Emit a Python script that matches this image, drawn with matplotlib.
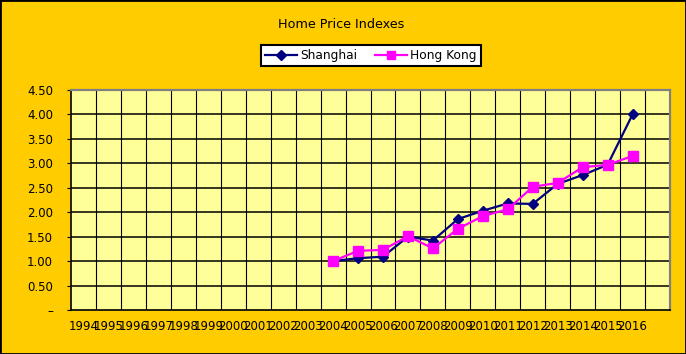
import numpy as np
import matplotlib
matplotlib.use("Agg")
import matplotlib.pyplot as plt
from matplotlib.lines import Line2D

# categories (last one is an empty slot, as in the source sheet)
years = [str(y) for y in range(1994, 2017)] + [""]
shanghai = [None] * 10 + [1.00, 1.06, 1.09, 1.50, 1.42, 1.86, 2.03, 2.18, 2.17, 2.58, 2.76, 2.97, 4.00, None]
hong_kong = [None] * 10 + [1.00, 1.21, 1.23, 1.51, 1.26, 1.66, 1.92, 2.06, 2.52, 2.60, 2.92, 2.97, 3.15, None]
y_ticks = [0, 0.5, 1.0, 1.5, 2.0, 2.5, 3.0, 3.5, 4.0, 4.5]
y_labels = ["–", "0.50", "1.00", "1.50", "2.00", "2.50", "3.00", "3.50", "4.00", "4.50"]

C_BG = "#FFCC00"
C_PLOT = "#FFFF99"
C_SH = "#000080"
C_HK = "#FF00FF"

W, H = 686, 354
fig = plt.figure(figsize=(W / 100, H / 100), dpi=100, facecolor=C_BG)
fig.patches.append(plt.Rectangle((0, 0), 1, 1, transform=fig.transFigure,
                                 fill=False, edgecolor="black", lw=2))

ax = fig.add_axes([71 / W, 1 - 310 / H, 599 / W, 220 / H], facecolor=C_PLOT)

x = np.arange(len(years))
sh = np.array([np.nan if v is None else v for v in shanghai])
hk = np.array([np.nan if v is None else v for v in hong_kong])

ax.plot(x, sh, color=C_SH, lw=1.6, marker="D", ms=5, mec=C_SH, mfc=C_SH, zorder=3)
ax.plot(x, hk, color=C_HK, lw=1.6, marker="s", ms=6.5, mec=C_HK, mfc=C_HK, zorder=4)

ax.set_xlim(-0.5, len(years) - 0.5)
ax.set_ylim(0, 4.5)

# gridlines between categories
for b in np.arange(0.5, len(years) - 0.5, 1.0):
    ax.axvline(b, color="black", lw=0.8, zorder=1)
for yv in y_ticks[1:-1]:
    ax.axhline(yv, color="black", lw=1.1, zorder=1)

ax.set_xticks(x)
ax.set_xticklabels(years, fontsize=8.5)
ax.set_yticks(y_ticks)
ax.set_yticklabels(y_labels, fontsize=8.5)
ax.tick_params(axis="x", length=0, pad=7)
ax.tick_params(axis="y", length=3, pad=10)

for side in ["left", "bottom"]:
    ax.spines[side].set_color("black")
    ax.spines[side].set_linewidth(1.2)
for side in ["top", "right"]:
    ax.spines[side].set_color("#808080")
    ax.spines[side].set_linewidth(1.6)

fig.text(341 / W, 1 - 24 / H, "Home Price Indexes", ha="center", va="center", fontsize=9.2)

handles = [
    Line2D([], [], color=C_SH, lw=1.6, marker="D", ms=5),
    Line2D([], [], color=C_HK, lw=1.6, marker="s", ms=6),
]
leg = fig.legend(handles, ["Shanghai", "Hong Kong"], loc="center",
                 bbox_to_anchor=(371 / W, 1 - 55.5 / H), ncol=2, fontsize=8.8,
                 frameon=True, fancybox=False, edgecolor="black", framealpha=1,
                 handlelength=2.6, handletextpad=0.3, columnspacing=1.4,
                 borderpad=0.35)
leg.get_frame().set_linewidth(1.5)

fig.savefig("out.png", dpi=100, facecolor=C_BG)
